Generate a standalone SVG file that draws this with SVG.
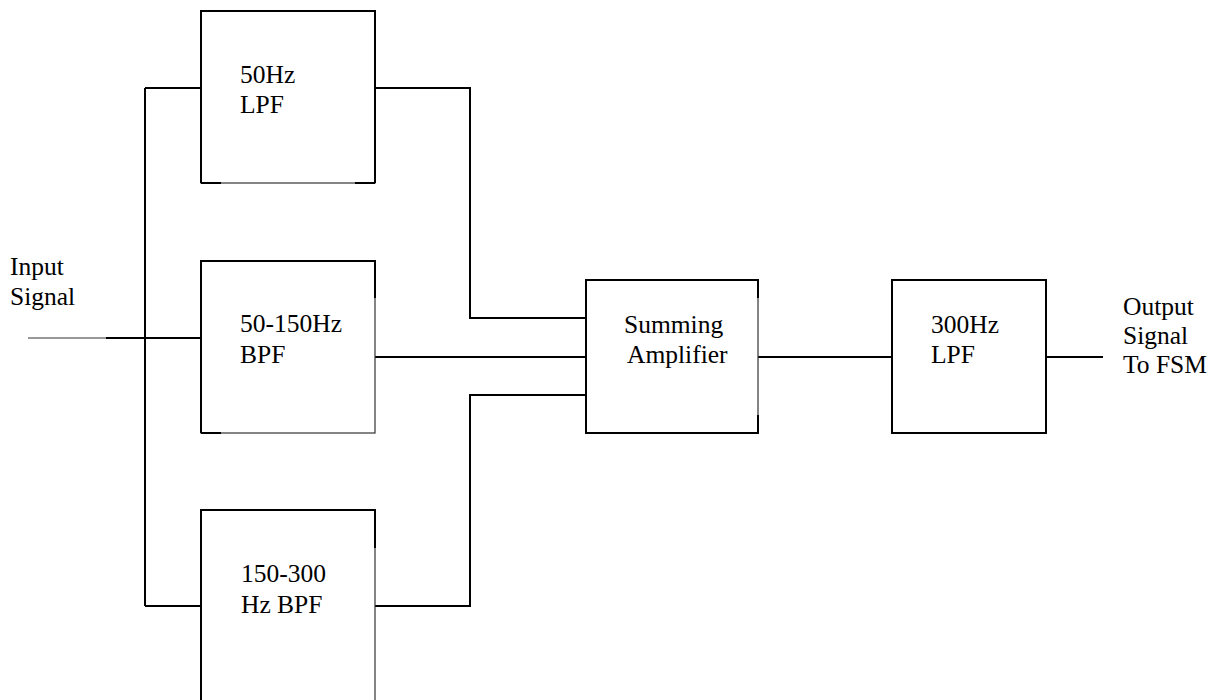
<svg xmlns="http://www.w3.org/2000/svg" width="1227" height="700" viewBox="0 0 1227 700">
<style>
text{font-family:"Liberation Serif","Times New Roman",serif;font-size:25.5px;fill:#000}
.box{fill:#fff;stroke:#333;stroke-width:1.2}
.thick{fill:none;stroke:#000;stroke-width:2}
.wire{fill:none;stroke:#000;stroke-width:2}
.thin{fill:none;stroke:#333;stroke-width:1.2}
</style>
<rect width="1227" height="700" fill="#fff"/>
<g id="connectors">
<path class="wire" d="M145 88 V606 M145 88 H201 M145 606 H201"/>
<path class="thin" d="M28 338 H106"/>
<path class="wire" d="M106 338 H201"/>
<path class="wire" d="M375 88 H470 V318 H586"/>
<path class="wire" d="M375 357 H586"/>
<path class="wire" d="M375 606 H470 V395 H586"/>
<path class="wire" d="M758 357 H892"/>
<path class="wire" d="M1046 357 H1103"/>
</g>
<g id="lpf50">
<rect class="box" x="201" y="11" width="174" height="172"/>
<path class="thick" d="M201 183 V11 H375 V183 M201 183 H221 M355 183 H375"/>
<text x="240" y="83">50Hz</text>
<text x="240" y="113">LPF</text>
</g>
<g id="bpf50150">
<rect class="box" x="201" y="261" width="174" height="172"/>
<path class="thick" d="M201 433 V261 H375 V298 M201 433 H221"/>
<text x="240" y="332">50-150Hz</text>
<text x="240" y="363">BPF</text>
</g>
<g id="bpf150300">
<rect class="box" x="201" y="510" width="174" height="200"/>
<path class="thick" d="M201 710 V510 H375 V548"/>
<text x="241" y="582">150-300</text>
<text x="241" y="613">Hz BPF</text>
</g>
<g id="summing">
<rect class="box" x="586" y="280" width="172" height="153"/>
<path class="thick" d="M758 298 V280 H586 V433 H758 V415"/>
<text x="624" y="333">Summing</text>
<text x="627" y="363">Amplifier</text>
</g>
<g id="lpf300">
<rect class="thick" x="892" y="280" width="154" height="153" fill="#fff"/>
<text x="931" y="333">300Hz</text>
<text x="931" y="363">LPF</text>
</g>
<g id="input-label">
<text x="10" y="275">Input</text>
<text x="10" y="305">Signal</text>
</g>
<g id="output-label">
<text x="1123" y="315">Output</text>
<text x="1123" y="344">Signal</text>
<text x="1123" y="373">To FSM</text>
</g>
</svg>
